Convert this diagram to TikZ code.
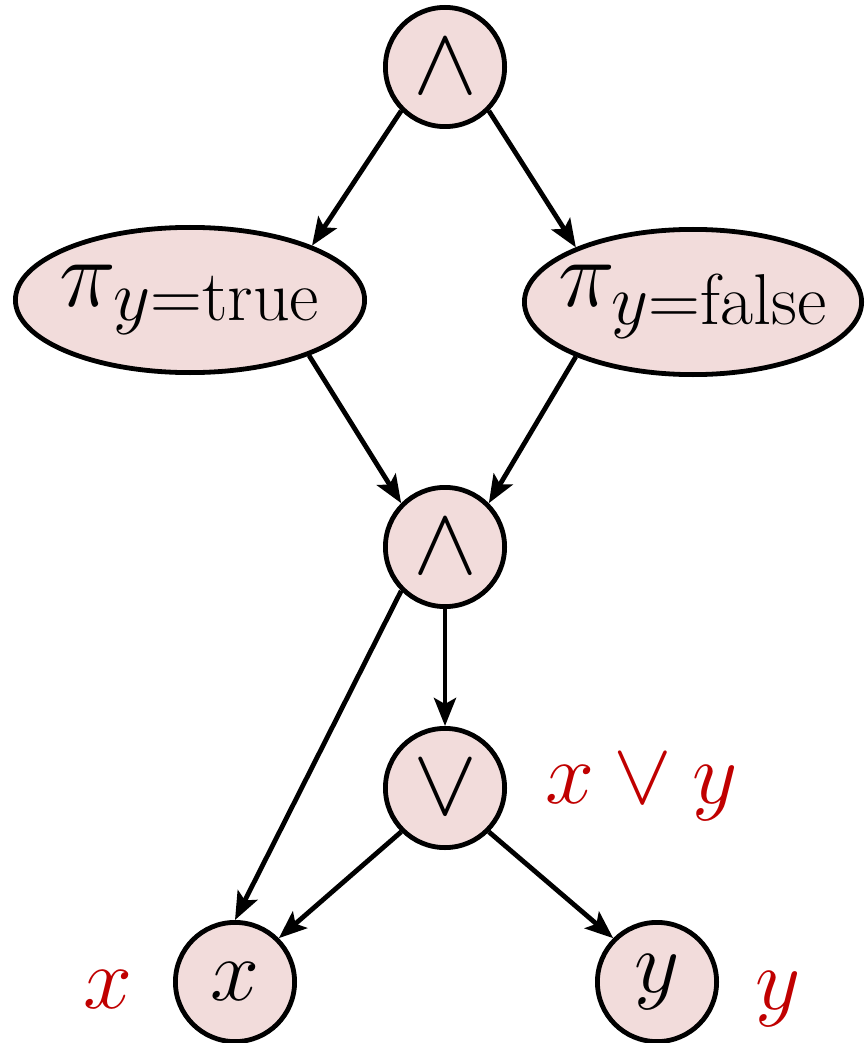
\RequirePackage{fix-cm}
\documentclass[tikz,border=0pt]{standalone}
\usepackage{fontspec}
\usetikzlibrary{shapes.geometric,arrows.meta,positioning}
\DeclareMathSizes{48}{48}{36}{28}
\definecolor{nodefill}{RGB}{242,220,219}
\definecolor{lblred}{RGB}{192,0,0}

\begin{document}
\begin{tikzpicture}[
    x=0.5pt, y=-0.5pt,
    gate/.style={draw=black, circle, fill=nodefill, line width=2.4pt, minimum size=59.6pt, inner sep=0pt, font=\fontsize{48}{54}\selectfont},
    leaf/.style={draw=black, circle, fill=nodefill, line width=2.4pt, minimum size=59.6pt, inner sep=0pt, font=\fontsize{44}{50}\selectfont},
    proj/.style={draw=black, ellipse, fill=nodefill, line width=2.4pt, inner sep=0pt, minimum height=72.6pt, font=\fontsize{48}{54}\selectfont},
    lbl/.style={text=lblred, inner sep=0pt, font=\fontsize{44}{50}\selectfont},
    arrow/.style={-{Stealth[length=14pt,width=11pt,inset=3pt]}, line width=2.4pt}
]
\useasboundingbox (0,0) rectangle (864,1043);

% gates and projections
\node[gate] (top) at (445,67) {$\wedge$};
\node[proj, minimum width=174.6pt] (ptrue) at (190,300) {\makebox[0pt]{$\pi_{y=\mathrm{true}}$}};
\node[proj, minimum width=168.6pt] (pfalse) at (693,302) {\makebox[0pt]{$\pi_{y=\mathrm{false}}$}};
\node[gate] (mid) at (445,547) {$\wedge$};
\node[gate] (vee) at (445,788) {$\vee$};

% leaves
\node[leaf] (xn) at (235,982) {$x$};
\node[leaf] (yn) at (657,982) {$y$};

% red labels
\node[lbl, right=19pt of vee] (veelab) {$x\vee y$};
\node[lbl, left=20pt of xn, yshift=-4pt] (xlab) {$x$};
\node[lbl, right=18pt of yn, yshift=-8.5pt] (ylab) {$y$};

\draw[arrow] (top.225) -- (ptrue.24);
\draw[arrow] (top.315) -- (pfalse.155);
\draw[arrow] (ptrue.335) -- (mid.135);
\draw[arrow] (pfalse.205) -- (mid.45);
\draw[arrow] (mid.225) -- (xn.90);
\draw[arrow] (mid) -- (vee);
\draw[arrow] (vee.225) -- (xn.45);
\draw[arrow] (vee.315) -- (yn.135);

\end{tikzpicture}
\end{document}
